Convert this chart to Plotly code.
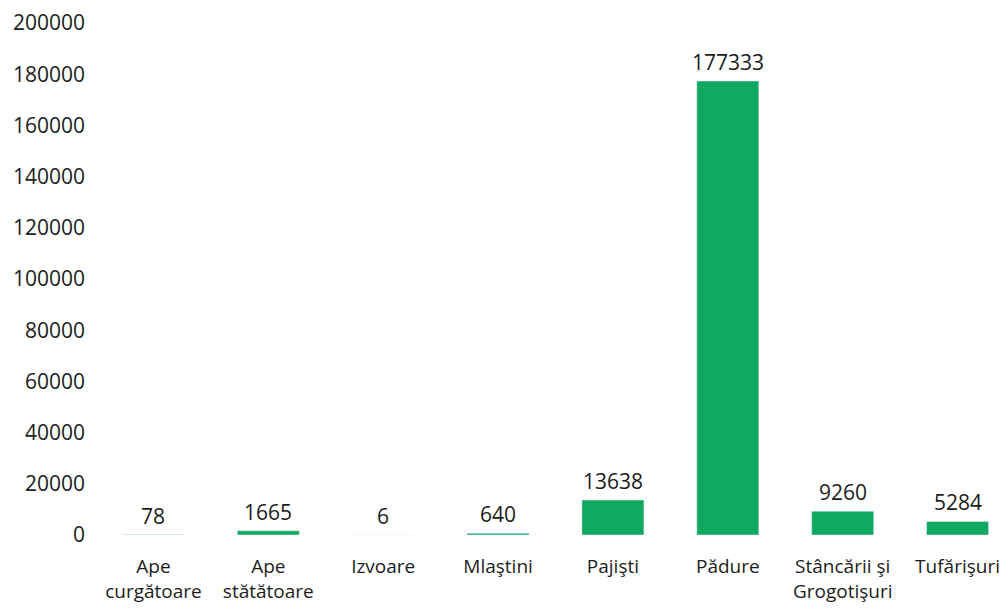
import plotly.graph_objects as go

GREEN = "#11a862"
TEXT = "#1c1c1c"

categories = [
    "Ape<br>curgătoare",
    "Ape<br>stătătoare",
    "Izvoare",
    "Mlaştini",
    "Pajişti",
    "Pădure",
    "Stâncării şi<br>Grogotişuri",
    "Tufărişuri",
]
values = [78, 1665, 6, 640, 13638, 177333, 9260, 5284]
y_ticks = list(range(0, 200001, 20000))

fig = go.Figure(
    go.Bar(
        x=categories,
        y=values,
        width=0.54,
        marker_color=GREEN,
        hoverinfo="x+y",
    )
)

# value labels sit a little above each bar
for cat, v in zip(categories, values):
    fig.add_annotation(
        x=cat,
        y=v,
        text=str(v),
        showarrow=False,
        yanchor="bottom",
        yshift=3,
        font=dict(size=21, color=TEXT),
    )

fig.update_layout(
    width=1007,
    height=613,
    margin=dict(l=88, r=0, t=15, b=86),
    plot_bgcolor="white",
    paper_bgcolor="white",
    showlegend=False,
    font=dict(family="Open Sans, sans-serif", size=19, color=TEXT),
    xaxis=dict(
        showgrid=False,
        showline=False,
        ticks="",
        ticklabelstandoff=18,
        tickfont=dict(size=19, color=TEXT),
    ),
    yaxis=dict(
        range=[0, 200000],
        tickvals=y_ticks,
        ticktext=[str(t) for t in y_ticks],
        showgrid=False,
        zeroline=False,
        showline=False,
        ticks="",
        ticklabelstandoff=10,
        tickfont=dict(size=21, color=TEXT),
    ),
)

fig.write_html("out.html")
